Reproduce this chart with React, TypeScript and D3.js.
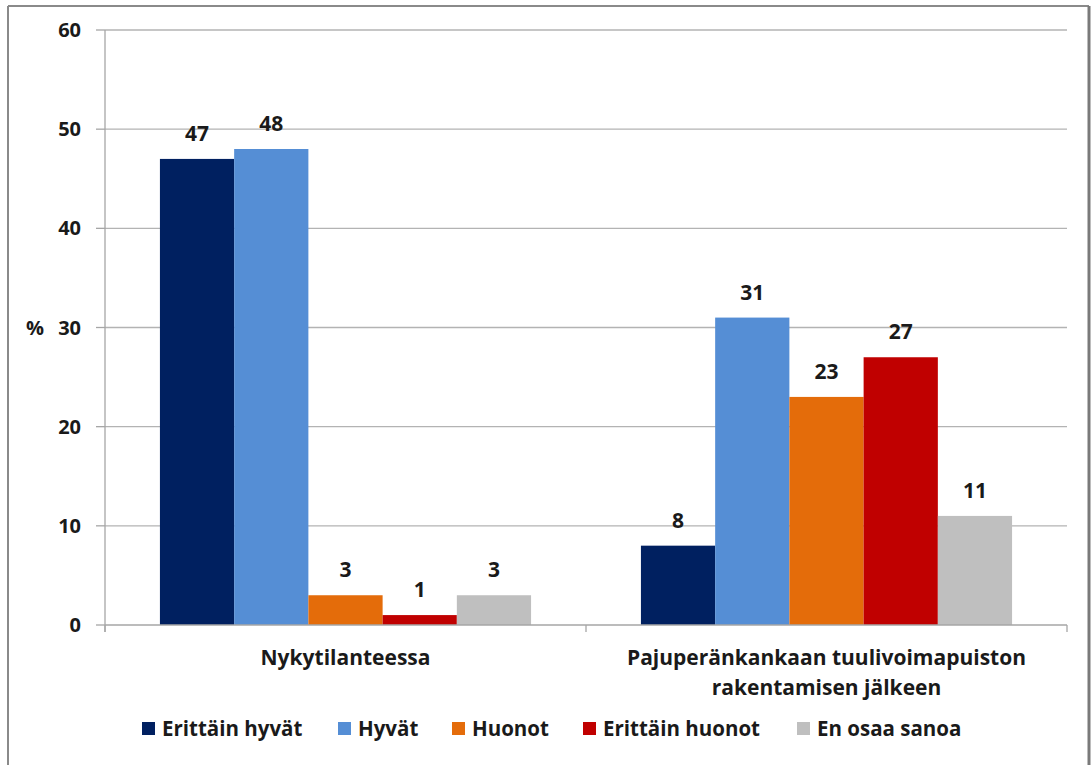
import React from "react";
import * as d3 from "d3";

const categories = ["Nykytilanteessa", "Pajuperänkankaan tuulivoimapuiston rakentamisen jälkeen"];
const categoryLines = [["Nykytilanteessa"], ["Pajuperänkankaan tuulivoimapuiston", "rakentamisen jälkeen"]];
const seriesNames = ["Erittäin hyvät", "Hyvät", "Huonot", "Erittäin huonot", "En osaa sanoa"];
const seriesColors = ["#002060", "#558ED5", "#E46C0A", "#C00000", "#BFBFBF"];
const valuesNyky = [47, 48, 3, 1, 3];
const valuesPaju = [8, 31, 23, 27, 11];
const yTicks = [0, 10, 20, 30, 40, 50, 60];
const legendX = [142, 338, 452, 583, 797];

const W = 1091;
const H = 765;
const FONT = "'Open Sans', 'DejaVu Sans', sans-serif";
const TEXT = "#1a1a1a";

export default function App() {
  const data = [valuesNyky, valuesPaju];
  const x0 = d3.scaleBand<string>().domain(categories).range([105, 1067]).paddingInner(0).paddingOuter(0);
  const x1 = d3
    .scaleBand<string>()
    .domain(seriesNames)
    .range([0, x0.bandwidth()])
    .paddingInner(0)
    .paddingOuter(0.74);
  const y = d3.scaleLinear().domain([0, 60]).range([625, 30]);
  const [x0l, x0r] = x0.range();

  return (
    <svg width={W} height={H} style={{ position: "absolute", left: 0, top: 0, background: "#fff" }}>
      <rect x={0} y={0} width={W} height={H} fill="#fff" />
      {/* frame */}
      <line x1={8} y1={6} x2={8} y2={H} stroke="#8a8a8a" strokeWidth={2} />
      <line x1={8} y1={6} x2={1089} y2={6} stroke="#8a8a8a" strokeWidth={2} />
      <line x1={1089} y1={6} x2={1089} y2={H} stroke="#7a7a7a" strokeWidth={3} />

      {/* gridlines */}
      {yTicks.filter((t) => t > 0).map((t) => (
        <line key={"g" + t} x1={x0l} x2={x0r} y1={y(t)} y2={y(t)} stroke="#b3b3b3" strokeWidth={1.3} />
      ))}
      {/* y axis */}
      <line x1={x0l} x2={x0l} y1={y(60)} y2={632} stroke="#a6a6a6" strokeWidth={1.3} />
      {yTicks.map((t) => (
        <g key={"t" + t}>
          <line x1={96} x2={x0l} y1={y(t)} y2={y(t)} stroke="#a6a6a6" strokeWidth={1.3} />
          <text x={81} y={y(t)} dy="0.35em" textAnchor="end" fontFamily={FONT} fontWeight="bold" fontSize={20} fill={TEXT}>
            {t}
          </text>
        </g>
      ))}
      <text x={35} y={y(30)} dy="0.35em" textAnchor="middle" fontFamily={FONT} fontWeight="bold" fontSize={20} fill={TEXT}>
        %
      </text>

      {/* bars */}
      {categories.map((c, ci) => (
        <g key={c} transform={`translate(${x0(c)},0)`}>
          {seriesNames.map((s, si) => {
            const v = data[ci][si];
            const bx = x1(s) as number;
            return (
              <g key={s}>
                <rect x={bx} y={y(v)} width={x1.bandwidth()} height={y(0) - y(v)} fill={seriesColors[si]} />
                <text
                  x={bx + x1.bandwidth() / 2}
                  y={y(v) - 18}
                  textAnchor="middle"
                  fontFamily={FONT}
                  fontWeight="bold"
                  fontSize={21}
                  fill={TEXT}
                >
                  {v}
                </text>
              </g>
            );
          })}
        </g>
      ))}

      {/* x axis */}
      <line x1={x0l} x2={x0r} y1={y(0)} y2={y(0)} stroke="#a6a6a6" strokeWidth={1.3} />
      {[...categories.map((c) => x0(c) as number), x0r].map((px, i) => (
        <line key={"xt" + i} x1={px} x2={px} y1={y(0)} y2={632} stroke="#a6a6a6" strokeWidth={1.3} />
      ))}
      {categories.map((c, ci) => (
        <text
          key={"cl" + c}
          x={(x0(c) as number) + x0.bandwidth() / 2}
          y={658}
          textAnchor="middle"
          fontFamily={FONT}
          fontWeight="bold"
          fontSize={21}
          fill={TEXT}
        >
          {categoryLines[ci].map((ln, li) => (
            <tspan key={li} x={(x0(c) as number) + x0.bandwidth() / 2} y={658 + li * 30} dy="0.35em">
              {ln}
            </tspan>
          ))}
        </text>
      ))}

      {/* legend */}
      {seriesNames.map((s, si) => (
        <g key={"lg" + s}>
          <rect x={legendX[si]} y={722} width={13} height={13} fill={seriesColors[si]} />
          <text x={legendX[si] + 20} y={728.5} dy="0.35em" fontFamily={FONT} fontWeight="bold" fontSize={20.5} fill={TEXT}>
            {s}
          </text>
        </g>
      ))}
    </svg>
  );
}
